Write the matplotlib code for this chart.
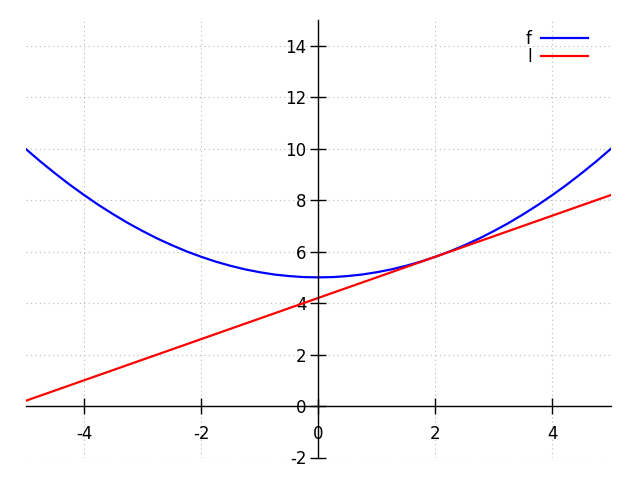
import matplotlib
matplotlib.use("Agg")
import matplotlib.pyplot as plt

# Data
f_x = [-5.0, -4.75, -4.5, -4.25, -4.0, -3.75, -3.5, -3.25, -3.0, -2.75, -2.5,
       -2.25, -2.0, -1.75, -1.5, -1.25, -1.0, -0.75, -0.5, -0.25, 0.0,
       0.25, 0.5, 0.75, 1.0, 1.25, 1.5, 1.75, 2.0, 2.25, 2.5,
       2.75, 3.0, 3.25, 3.5, 3.75, 4.0, 4.25, 4.5, 4.75, 5.0]
f_y = [10.0, 9.51, 9.05, 8.61, 8.2, 7.81, 7.45, 7.11, 6.8, 6.51, 6.25,
       6.01, 5.8, 5.61, 5.45, 5.31, 5.2, 5.11, 5.05, 5.01, 5.0,
       5.01, 5.05, 5.11, 5.2, 5.31, 5.45, 5.61, 5.8, 6.01, 6.25,
       6.51, 6.8, 7.11, 7.45, 7.81, 8.2, 8.61, 9.05, 9.51, 10.0]
l_x = [-5.0, 5.0]
l_y = [0.2, 8.2]
x_ticks = [-4, -2, 0, 2, 4]
y_ticks = [-2, 0, 2, 4, 6, 8, 10, 12, 14]

plt.rcParams['font.family'] = ['DejaVu Sans']
plt.rcParams['font.size'] = 12

fig = plt.figure(figsize=(6.4, 4.8), dpi=100)
ax = fig.add_axes([25.5 / 640, 1 - 457.5 / 480, (611 - 25.5) / 640, (457.5 - 20) / 480])

ax.plot(f_x, f_y, color='#0000ff', lw=1.6, label='f')
ax.plot(l_x, l_y, color='#ff0000', lw=1.6, label='l')

ax.set_xlim(-5, 5)
ax.set_ylim(-2, 15)
ax.set_xticks(x_ticks)
ax.set_yticks(y_ticks)
ax.set_xticklabels([str(v) for v in x_ticks])
ax.set_yticklabels([str(v) for v in y_ticks])

for s in ['top', 'right']:
    ax.spines[s].set_visible(False)
ax.spines['left'].set_position(('data', 0))
ax.spines['bottom'].set_position(('data', 0))
ax.spines['left'].set_linewidth(1.0)
ax.spines['bottom'].set_linewidth(1.0)

ax.tick_params(axis='x', direction='inout', length=11, width=1.0, pad=8)
ax.tick_params(axis='y', direction='inout', length=11, width=1.0, pad=3)

ax.grid(True, color='#b8b8b8', linestyle=(0, (1, 3)), linewidth=0.8)
ax.set_axisbelow(True)

leg = ax.legend(loc='upper right', frameon=False, markerfirst=False,
                handlelength=2.8, handletextpad=0.55, labelspacing=0.0,
                borderaxespad=0.4, bbox_to_anchor=(1 - 10 / 585.5, 1.0 + 3 / 437.5))

fig.savefig('out.png', dpi=100)
